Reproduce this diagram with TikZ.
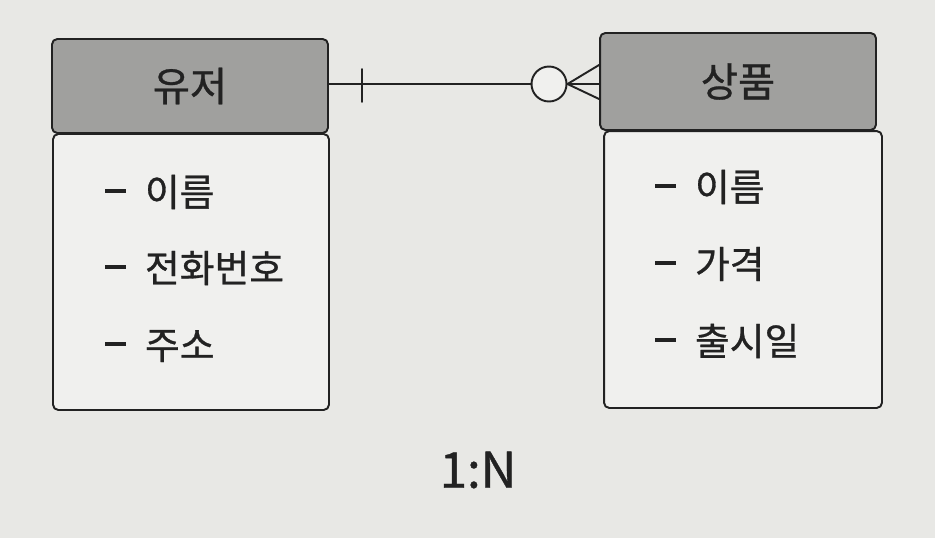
\documentclass[tikz,border=0pt]{standalone}
\usepackage{fontspec}
\setmainfont{Noto Sans CJK KR}[FakeBold=0.8]
\usetikzlibrary{positioning}
\definecolor{paper}{RGB}{232,232,229}
\definecolor{headgray}{RGB}{160,160,158}
\definecolor{bodygray}{RGB}{240,240,238}
\definecolor{ink}{RGB}{34,34,34}
\newcommand{\attrdash}{\rule[0.36em]{0.55em}{1.8pt}\hspace{0.5em}}
\tikzset{
  head/.style={draw=ink, line width=1.1pt, fill=headgray, rounded corners=3pt, minimum width=5.52cm, text=ink, font=\fontsize{23}{27}\selectfont},
  body/.style={draw=ink, line width=1.1pt, fill=bodygray, rounded corners=3pt, minimum width=5.52cm, minimum height=5.52cm},
  item/.style={anchor=west, text=ink, font=\fontsize{21.5}{26}\selectfont, inner sep=0pt},
}
\begin{document}
\begin{tikzpicture}[x=0.02cm, y=-0.02cm, line join=round, line cap=round]
			\fill [paper] (0,0) rectangle (935,538);
			\useasboundingbox (0,0) rectangle (935,538);
			% entities
			\node [head, minimum height=1.88cm] (user) at (190,86) {유저};
			\node [body] (userbody) at (191,272) {};
			\node [head, minimum height=1.94cm] (prod) at (738,81.5) {상품};
			\node [body, minimum width=5.56cm, minimum height=5.54cm] (prodbody) at (743,269.5) {};
			% attributes
			\node [item] (u1) at (105,192) {\attrdash 이름};
			\node [item] (u2) at (105,268) {\attrdash 전화번호};
			\node [item] (u3) at (105,346) {\attrdash 주소};
			\node [item] (p1) at (655,187) {\attrdash 이름};
			\node [item] (p2) at (655,264) {\attrdash 가격};
			\node [item] (p3) at (655,341) {\attrdash 출시일};
			% relation 1:N
			\node [draw=ink, line width=1.1pt, fill=bodygray, circle, minimum size=0.7cm, inner sep=0pt] (zero) at (549,84) {};
			\coordinate (foot) at (prod.west |- zero);
			\draw [ink, line width=1.1pt] (user.east |- zero) -- (zero.west);
			\draw [ink, line width=1.1pt] ([xshift=0.66cm,yshift=0.3cm]user.east |- zero) -- ([xshift=0.66cm,yshift=-0.36cm]user.east |- zero);
			\draw [ink, line width=1.1pt] ([yshift=0.38cm]foot) -- (zero.east) -- ([yshift=-0.3cm]foot);
			\draw [ink, line width=1.1pt] (zero.east) -- (foot);
			\node [text=ink, font=\fontsize{28}{32}\selectfont] (ratio) at (478,470) {1:N};
		\end{tikzpicture}
\end{document}
